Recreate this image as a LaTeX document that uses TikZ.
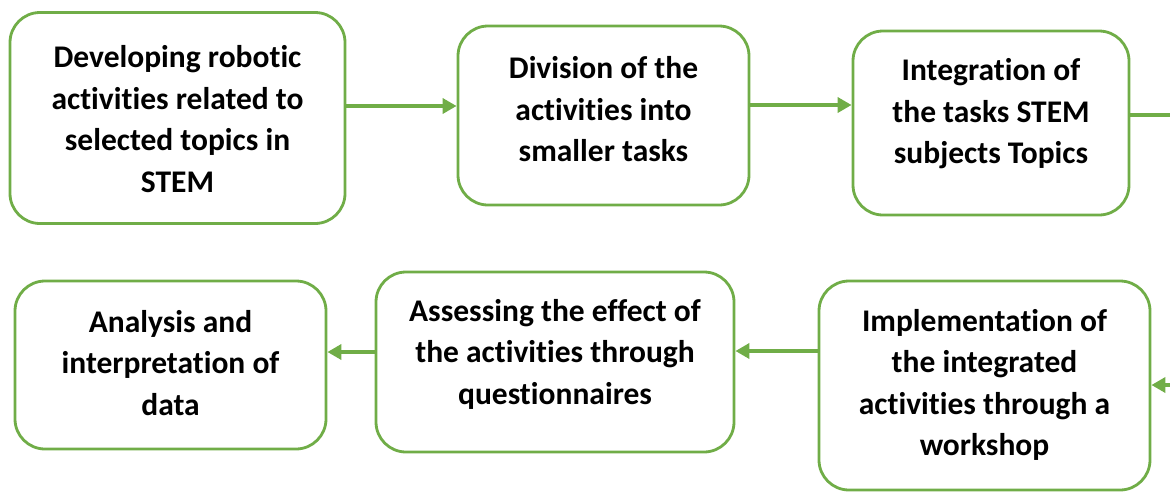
\documentclass[tikz,border=0pt]{standalone}
\usepackage{fontspec}
\setmainfont{Carlito}[Ligatures={NoCommon}]
\usetikzlibrary{arrows.meta}
\definecolor{grn}{HTML}{70AD47}
\tikzset{
  box/.style={draw=grn, line width=2.8pt, rounded corners=30pt, fill=white, inner sep=0pt},
  txt/.style={align=center, font=\bfseries\fontsize{31.5}{41.5}\selectfont, inner sep=0pt},
  arr/.style={draw=grn, line width=3.8pt, -{Triangle[length=14pt,width=15pt]}},
  ln/.style={draw=grn, line width=3.8pt}
}
\begin{document}
\begin{tikzpicture}[x=1pt,y=-1pt]
\useasboundingbox (0,0) rectangle (1170,491);
% boxes
\node[box, minimum width=335pt, minimum height=211pt] (b1) at (177.5,118) {};
\node[box, minimum width=291pt, minimum height=179pt] (b2) at (603.5,115.5) {};
\node[box, minimum width=276pt, minimum height=184pt] (b3) at (991,123) {};
\node[box, minimum width=311pt, minimum height=168pt] (b4) at (170.5,365) {};
\node[box, minimum width=358pt, minimum height=180pt] (b5) at (555,362) {};
\node[box, minimum width=331pt, minimum height=209pt] (b6) at (984.5,385.5) {};
% texts
\node[txt] (t1) at (177.5,119) {Developing robotic\\activities related to\\selected topics in\\STEM};
\node[txt] (t2) at (603.5,109.5) {Division of the\\activities into\\smaller tasks};
\node[txt] (t3) at (991,114) {Integration of\\the tasks STEM\\subjects Topics};
\node[txt] (t4) at (170.5,363) {Analysis and\\interpretation of\\data};
\node[txt] (t5) at (555,354) {Assessing the effect of\\the activities through\\questionnaires};
\node[txt] (t6) at (984.5,385) {Implementation of\\the integrated\\activities through a\\workshop};
% off-page ends
\coordinate (o1) at (1180,115);
\coordinate (o2) at (1180,385);
% connectors
\draw[arr] (b1.east |- 0,106) -- (b2.west |- 0,106);
\draw[arr] (b2.east |- 0,105) -- (b3.west |- 0,105);
\draw[ln] (b3.east |- o1) -- (o1);
\draw[arr] (o2) -- (b6.east |- o2);
\draw[arr] (b6.west |- 0,351) -- (b5.east |- 0,351);
\draw[arr] (b5.west |- 0,352) -- (b4.east |- 0,352);
\end{tikzpicture}
\end{document}
